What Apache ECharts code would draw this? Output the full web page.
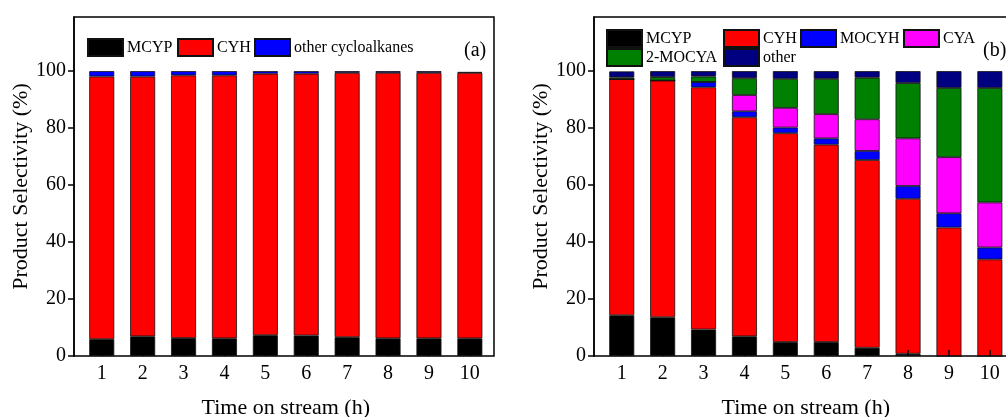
<!DOCTYPE html>
<html>
<head>
<meta charset="utf-8">
<script src="https://cdn.jsdelivr.net/npm/echarts@6/dist/echarts.min.js"></script>
<style>
html,body{margin:0;padding:0;background:#fff;}
#c{width:1006px;height:417px;}
</style>
</head>
<body>
<div id="c"></div>
<script>
// ---- data ----
const hours = ['1', '2', '3', '4', '5', '6', '7', '8', '9', '10'];
const yTicks = [0, 20, 40, 60, 80, 100];

// panel (a)
const aMCYP  = [5.9, 6.9, 6.3, 6.2, 7.3, 7.2, 6.6, 6.2, 6.2, 6.2];
const aCYH   = [92.2, 91.2, 92.2, 92.3, 91.8, 91.9, 92.8, 93.2, 93.2, 93.2];
const aOther = [1.9, 1.9, 1.5, 1.5, 0.9, 0.9, 0.6, 0.6, 0.6, 0.3];

// panel (b)
const bMCYP   = [14.3, 13.6, 9.3, 6.9, 4.9, 4.9, 2.9, 0.8, 0, 0];
const bCYH    = [82.9, 83.1, 85.0, 76.9, 73.3, 69.3, 65.9, 54.4, 45.1, 33.9];
const bMOCYH  = [0, 0, 1.9, 2.1, 2.0, 2.2, 3.2, 4.5, 5.0, 4.2];
const bCYA    = [0, 0, 0, 5.7, 6.9, 8.5, 11.1, 16.7, 19.7, 15.8];
const bMOCYA  = [0.6, 1.2, 1.9, 5.9, 10.2, 12.4, 14.6, 19.4, 24.3, 40.2];
const bOther  = [2.1, 2.1, 1.9, 2.5, 2.7, 2.7, 2.3, 4.2, 5.9, 5.9];

// ---- chart ----
const FONT = '"Liberation Serif", "Times New Roman", serif';

function frameX(gi) {
  return {type: 'value', gridIndex: gi, show: false, min: 0, max: 1};
}
function frameY(gi) {
  return {type: 'value', gridIndex: gi, show: false, min: 0, max: 1};
}
function xAxisDef(gi) {
  return {
    type: 'category', gridIndex: gi, data: hours, boundaryGap: true, z: 5,
    name: 'Time on stream (h)', nameLocation: 'middle', nameGap: 41,
    nameTextStyle: {fontFamily: FONT, fontSize: 22, color: '#000'},
    axisLine: {show: false},
    axisTick: {show: true, inside: true, length: 6, alignWithLabel: true, lineStyle: {color: '#000', width: 1.5}},
    axisLabel: {fontFamily: FONT, fontSize: 20, color: '#000', margin: 8},
    splitLine: {show: false}
  };
}
function yAxisDef(gi) {
  return {
    type: 'value', gridIndex: gi, min: 0, max: 119, offset: 7.3, z: 5,
    name: 'Product Selectivity (%)', nameLocation: 'middle', nameGap: 41,
    nameTextStyle: {fontFamily: FONT, fontSize: 22, color: '#000'},
    axisLine: {show: true, lineStyle: {color: '#000', width: 1.5}},
    axisTick: {show: true, inside: false, length: 6, customValues: yTicks, lineStyle: {color: '#000', width: 1.5}},
    axisLabel: {customValues: yTicks, fontFamily: FONT, fontSize: 20, color: '#000', margin: 8},
    splitLine: {show: false}
  };
}
function barSeries(name, arr, color, gi, stack) {
  return {
    type: 'bar', name: name, xAxisIndex: gi, yAxisIndex: gi, stack: stack,
    barWidth: 25, data: arr,
    itemStyle: {color: color, borderColor: '#111', borderWidth: 0.8},
    emphasis: {disabled: true}, animation: false
  };
}
function legendAt(name, left, top) {
  return {
    data: [name], left: left, top: top, padding: 0,
    itemWidth: 35, itemHeight: 17, itemGap: 5, icon: 'rect',
    textStyle: {fontFamily: FONT, fontSize: 16, color: '#000', padding: [0, 0, 0, -1]},
    selectedMode: false
  };
}
function gridDef(left, width, show) {
  return {
    left: left, top: 17, width: width, height: 339, show: show,
    borderColor: '#000', borderWidth: 1.5, backgroundColor: 'transparent',
    containLabel: false, outerBoundsMode: 'none'
  };
}

const chart = echarts.init(document.getElementById('c'), null, {renderer: 'canvas'});
chart.setOption({
  backgroundColor: '#fff',
  animation: false,
  grid: [
    gridDef(74, 420, true),
    gridDef(81.3, 409, false),
    gridDef(594, 420, true),
    gridDef(601.3, 409, false)
  ],
  xAxis: [frameX(0), xAxisDef(1), frameX(2), xAxisDef(3)],
  yAxis: [frameY(0), yAxisDef(1), frameY(2), yAxisDef(3)],
  legend: [
    legendAt('MCYP', 87, 38),
    legendAt('CYH', 177, 38),
    legendAt('other cycloalkanes', 254, 38),
    legendAt('MCYP ', 606, 29),
    legendAt('CYH ', 723, 29),
    legendAt('MOCYH', 800, 29),
    legendAt('CYA', 903, 29),
    legendAt('2-MOCYA', 606, 48),
    legendAt('other', 723, 48)
  ],
  graphic: [
    {type: 'text', left: 464, top: 41, style: {text: '(a)', font: '20px ' + FONT, fill: '#000'}},
    {type: 'text', left: 983, top: 41, style: {text: '(b)', font: '20px ' + FONT, fill: '#000'}}
  ],
  series: [
    barSeries('MCYP', aMCYP, '#000000', 1, 'a'),
    barSeries('CYH', aCYH, '#ff0000', 1, 'a'),
    barSeries('other cycloalkanes', aOther, '#0000ff', 1, 'a'),
    barSeries('MCYP ', bMCYP, '#000000', 3, 'b'),
    barSeries('CYH ', bCYH, '#ff0000', 3, 'b'),
    barSeries('MOCYH', bMOCYH, '#0000ff', 3, 'b'),
    barSeries('CYA', bCYA, '#ff00ff', 3, 'b'),
    barSeries('2-MOCYA', bMOCYA, '#008000', 3, 'b'),
    barSeries('other', bOther, '#000080', 3, 'b')
  ]
});
</script>
</body>
</html>
